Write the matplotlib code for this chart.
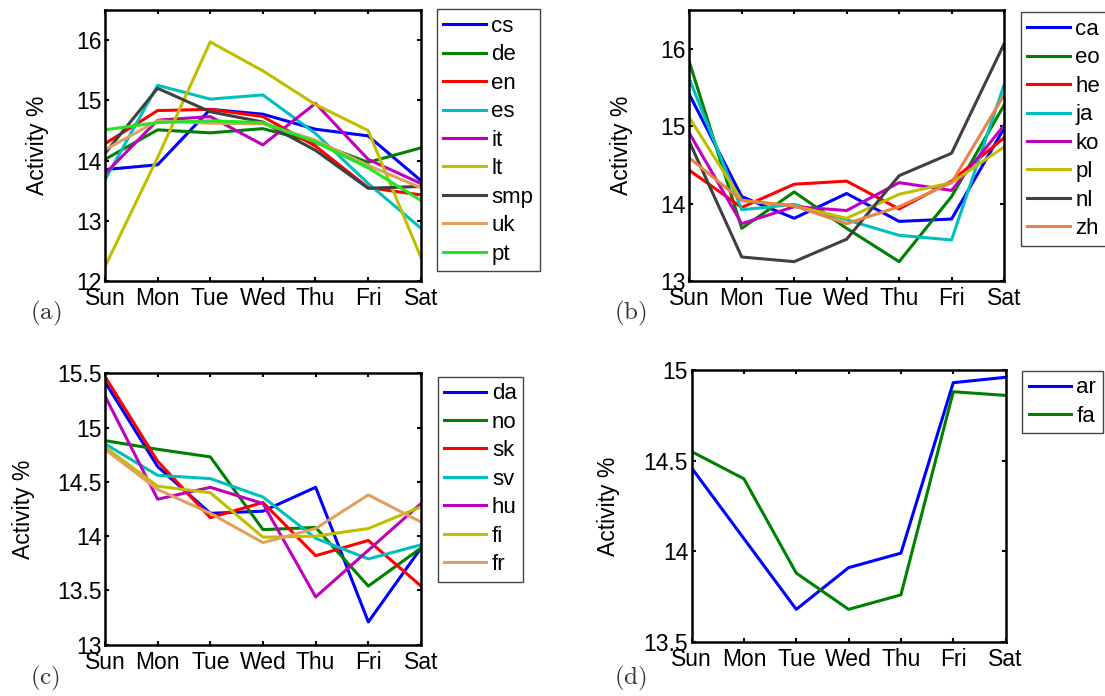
import matplotlib
matplotlib.use("Agg")
import matplotlib.pyplot as plt

plt.rcParams["font.family"] = ["Liberation Sans", "DejaVu Sans"]
plt.rcParams["mathtext.fontset"] = "cm"

days = ["Sun", "Mon", "Tue", "Wed", "Thu", "Fri", "Sat"]

# panel (a)
langs_a = ["cs", "de", "en", "es", "it", "lt", "smp", "uk", "pt"]
cs = [13.85, 13.93, 14.85, 14.77, 14.52, 14.41, 13.67]
de = [14.02, 14.51, 14.46, 14.53, 14.30, 13.97, 14.21]
en = [14.28, 14.83, 14.85, 14.73, 14.24, 13.55, 13.43]
es = [13.68, 15.25, 15.02, 15.09, 14.45, 13.62, 12.88]
it = [13.78, 14.67, 14.73, 14.26, 14.95, 14.02, 13.62]
lt = [12.24, 14.05, 15.97, 15.49, 14.93, 14.50, 12.40]
smp = [14.12, 15.20, 14.81, 14.64, 14.17, 13.54, 13.57]
uk = [14.18, 14.66, 14.62, 14.61, 14.34, 13.92, 13.55]
pt = [14.51, 14.63, 14.66, 14.63, 14.31, 13.88, 13.34]

# panel (b)
langs_b = ["ca", "eo", "he", "ja", "ko", "pl", "nl", "zh"]
ca = [15.41, 14.09, 13.81, 14.13, 13.77, 13.80, 14.97]
eo = [15.83, 13.68, 14.15, 13.68, 13.25, 14.09, 15.27]
he = [14.43, 13.95, 14.25, 14.29, 13.93, 14.29, 14.85]
ja = [15.61, 13.92, 13.99, 13.79, 13.59, 13.53, 15.53]
ko = [14.91, 13.74, 13.96, 13.91, 14.27, 14.17, 15.01]
pl = [15.11, 14.04, 13.97, 13.81, 14.12, 14.27, 14.73]
nl = [14.80, 13.31, 13.25, 13.54, 14.36, 14.65, 16.06]
zh = [14.59, 14.04, 13.97, 13.74, 13.96, 14.27, 15.40]

# panel (c)
langs_c = ["da", "no", "sk", "sv", "hu", "fi", "fr"]
da = [15.42, 14.64, 14.21, 14.23, 14.45, 13.21, 13.89]
no = [14.88, 14.80, 14.73, 14.06, 14.08, 13.54, 13.89]
sk = [15.47, 14.69, 14.17, 14.31, 13.82, 13.96, 13.54]
sv = [14.85, 14.56, 14.53, 14.36, 13.98, 13.79, 13.92]
hu = [15.29, 14.34, 14.45, 14.30, 13.44, 13.87, 14.30]
fi = [14.82, 14.46, 14.40, 13.99, 14.00, 14.07, 14.27]
fr = [14.80, 14.43, 14.21, 13.94, 14.07, 14.38, 14.13]

# panel (d)
langs_d = ["ar", "fa"]
ar = [14.46, 14.07, 13.68, 13.91, 13.99, 14.93, 14.96]
fa = [14.55, 14.40, 13.88, 13.68, 13.76, 14.88, 14.86]

BLUE, GREEN, RED = "#0000ff", "#008000", "#ff0000"
CYAN, MAGENTA, OLIVE = "#00bfbf", "#bf00bf", "#bfbf00"
GRAY, TAN, LIME, ORANGE = "#404040", "#e0a060", "#22e622", "#e8844a"

W, H = 1105, 696
FS_TICK = 16.5
FS_LEG = 16

panels = [
    dict(series=[cs, de, en, es, it, lt, smp, uk, pt], names=langs_a,
         colors=[BLUE, GREEN, RED, CYAN, MAGENTA, OLIVE, GRAY, TAN, LIME],
         box=(105, 10, 420.7, 281), ylim=(12, 16.5),
         yticks=[12, 13, 14, 15, 16], ylab_x=49, leg=(436.7, 9.3),
         tag="(a)", tag_xy=(46, 313)),
    dict(series=[ca, eo, he, ja, ko, pl, nl, zh], names=langs_b,
         colors=[BLUE, GREEN, RED, CYAN, MAGENTA, OLIVE, GRAY, ORANGE],
         box=(689.3, 10, 1004, 281), ylim=(13, 16.5),
         yticks=[13, 14, 15, 16], ylab_x=633, leg=(1020.7, 12.3),
         tag="(b)", tag_xy=(630, 313)),
    dict(series=[da, no, sk, sv, hu, fi, fr], names=langs_c,
         colors=[BLUE, GREEN, RED, CYAN, MAGENTA, OLIVE, TAN],
         box=(105, 373.3, 421, 644.7), ylim=(13, 15.5),
         yticks=[13, 13.5, 14, 14.5, 15, 15.5], ylab_x=35, leg=(437.5, 376.7),
         tag="(c)", tag_xy=(45, 678)),
    dict(series=[ar, fa], names=langs_d,
         colors=[BLUE, GREEN],
         box=(691.6, 370, 1005.6, 642), ylim=(13.5, 15),
         yticks=[13.5, 14, 14.5, 15], ylab_x=620, leg=(1021.9, 370.7),
         tag="(d)", tag_xy=(630, 678)),
]

fig = plt.figure(figsize=(W / 100, H / 100), dpi=100)

for p in panels:
    x0, y0, x1, y1 = p["box"]
    ax = fig.add_axes([x0 / W, 1 - y1 / H, (x1 - x0) / W, (y1 - y0) / H])
    xs = list(range(len(days)))
    for vals, name, col in zip(p["series"], p["names"], p["colors"]):
        ax.plot(xs, vals, color=col, lw=2.2, label=name)

    ax.set_xlim(0, len(days) - 1)
    ax.set_ylim(*p["ylim"])
    ax.set_xticks(xs)
    ax.set_xticklabels(days)
    ax.set_yticks(p["yticks"])
    ax.set_yticklabels([f"{t:g}" for t in p["yticks"]])
    ax.tick_params(direction="in", length=3, width=1.5, top=True, right=True,
                   labelsize=FS_TICK, colors="black")
    ax.tick_params(axis="x", pad=4.5)
    ax.tick_params(axis="y", pad=2.5)
    for sp in ax.spines.values():
        sp.set_linewidth(1.8)

    ax.set_ylabel("Activity %", fontsize=FS_TICK)
    ax.yaxis.set_label_coords((p["ylab_x"] - x0) / (x1 - x0), 0.5)

    lx, ly = p["leg"]
    leg = ax.legend(loc="upper left", bbox_to_anchor=(lx / W, 1 - ly / H),
                    bbox_transform=fig.transFigure, borderaxespad=0,
                    fontsize=FS_LEG, handlelength=1.9, handletextpad=0.25,
                    labelspacing=0.335, borderpad=0.3, fancybox=False,
                    framealpha=1, edgecolor="#444444")
    leg.get_frame().set_linewidth(1.0)

    tx, ty = p["tag_xy"]
    fig.text(tx / W, 1 - ty / H, r"$\mathrm{" + p["tag"] + "}$",
             ha="center", va="center", fontsize=18, color="#333333")

fig.savefig("out.png", dpi=100)
